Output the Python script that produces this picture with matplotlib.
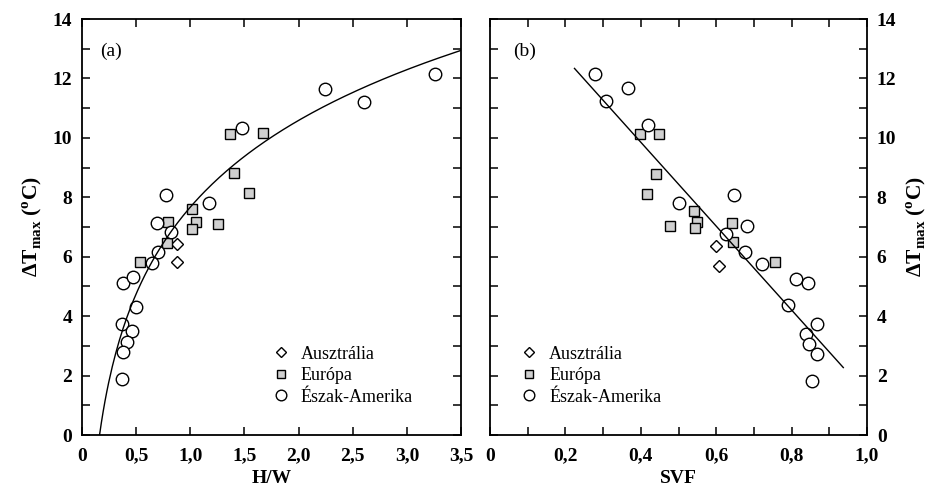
import numpy as np
import matplotlib
matplotlib.use('Agg')
import matplotlib.pyplot as plt
from matplotlib.ticker import FixedLocator, FuncFormatter

plt.rcParams['font.family'] = ['Liberation Serif', 'DejaVu Serif']
plt.rcParams['font.weight'] = 'bold'
plt.rcParams['axes.labelweight'] = 'bold'
plt.rcParams['mathtext.fontset'] = 'custom'
plt.rcParams['mathtext.rm'] = 'Liberation Serif:bold'
plt.rcParams['mathtext.bf'] = 'Liberation Serif:bold'

# (a) H/W
hw_au = [0.88, 0.874]
dt_au_a = [6.42, 5.81]
hw_eu = [1.37, 1.67, 1.40, 1.545, 1.02, 1.05, 1.02, 1.26, 0.79, 0.78, 0.535]
dt_eu_a = [10.13, 10.18, 8.81, 8.16, 7.60, 7.18, 6.93, 7.10, 7.16, 6.47, 5.81]
hw_na = [2.24, 2.60, 3.26, 1.48, 0.776, 1.17, 0.69, 0.82, 0.705, 0.643,
         0.38, 0.474, 0.50, 0.372, 0.459, 0.413, 0.38, 0.366]
dt_na_a = [11.65, 11.22, 12.15, 10.34, 8.08, 7.82, 7.12, 6.82, 6.17, 5.80,
           5.13, 5.33, 4.32, 3.72, 3.50, 3.14, 2.81, 1.87]

# (b) SVF
svf_au = [0.599, 0.606]
dt_au_b = [6.37, 5.70]
svf_eu = [0.398, 0.449, 0.44, 0.417, 0.477, 0.541, 0.55, 0.544, 0.643, 0.645, 0.756]
dt_eu_b = [10.13, 10.13, 8.77, 8.10, 7.05, 7.55, 7.18, 6.96, 7.15, 6.51, 5.83]
svf_na = [0.279, 0.308, 0.367, 0.418, 0.502, 0.648, 0.681, 0.625, 0.676, 0.722,
          0.812, 0.843, 0.789, 0.866, 0.838, 0.846, 0.866, 0.853]
dt_na_b = [12.15, 11.24, 11.69, 10.43, 7.82, 8.08, 7.05, 6.77, 6.17, 5.74,
           5.25, 5.10, 4.38, 3.74, 3.40, 3.06, 2.73, 1.82]

# illesztett görbék
a_log, b_log = 7.67, 4.21        # dT = a + b ln(H/W)
a_lin, b_lin = 15.50, -14.12     # dT = a + b SVF

labels = ['Ausztrália', 'Európa', 'Észak-Amerika']
ylab = r'$\Delta$T$_{\mathrm{max}}$ ($^{\mathrm{o}}$C)'


def comma(v, pos):
    if abs(v) < 1e-9:
        return '0'
    return ('%.1f' % v).replace('.', ',')


def style(ax):
    ax.tick_params(which='both', direction='in', top=True, right=True,
                   labelsize=14, width=1.1, length=6)
    ax.tick_params(axis='x', pad=9)
    ax.tick_params(axis='y', pad=7)
    for s in ax.spines.values():
        s.set_linewidth(1.3)
    ax.set_ylim(0, 14)
    ax.yaxis.set_major_locator(FixedLocator(np.arange(0, 15, 2)))
    ax.yaxis.set_minor_locator(FixedLocator(np.arange(1, 14, 2)))


fig = plt.figure(figsize=(9.44, 4.95), dpi=100)
ax1 = fig.add_axes([0.0869, 0.1212, 0.4015, 0.8404])
ax2 = fig.add_axes([0.5191, 0.1212, 0.3994, 0.8404])

mk = dict(linestyle='none', color='black', markeredgewidth=1.0)
leg_kw = dict(frameon=False, prop={'size': 13, 'weight': 'normal'},
              borderpad=0, borderaxespad=0,
              handlelength=1.0, handletextpad=0.6, labelspacing=0.25,
              markerscale=0.85)

# (a)
ax1.plot(hw_au, dt_au_a, marker='D', markersize=6.5, markerfacecolor='white', **mk)
ax1.plot(hw_eu, dt_eu_a, marker='s', markersize=7, markerfacecolor='#d0d0d0', **mk)
ax1.plot(hw_na, dt_na_a, marker='o', markersize=9, markerfacecolor='white', **mk)
xx = np.linspace(np.exp(-a_log / b_log), 3.5, 200)
ax1.plot(xx, a_log + b_log * np.log(xx), color='black', linewidth=1.0)
ax1.set_xlim(0, 3.5)
ax1.xaxis.set_major_locator(FixedLocator(np.arange(0, 3.51, 0.5)))
ax1.xaxis.set_major_formatter(FuncFormatter(comma))
style(ax1)
ax1.set_xlabel('H/W', fontsize=14, labelpad=4)
ax1.set_ylabel(ylab, fontsize=15.5, labelpad=6)
ax1.text(0.047, 0.923, '(a)', transform=ax1.transAxes, fontsize=14,
         fontweight='normal', va='center')
ax1.legend(labels, loc='upper left', bbox_to_anchor=(0.50, 0.215), **leg_kw)

# (b)
ax2.plot(svf_au, dt_au_b, marker='D', markersize=6.5, markerfacecolor='white', **mk)
ax2.plot(svf_eu, dt_eu_b, marker='s', markersize=7, markerfacecolor='#d0d0d0', **mk)
ax2.plot(svf_na, dt_na_b, marker='o', markersize=9, markerfacecolor='white', **mk)
sv = np.linspace(0.224, 0.937, 50)
ax2.plot(sv, a_lin + b_lin * sv, color='black', linewidth=1.0)
ax2.set_xlim(0, 1.0)
ax2.xaxis.set_major_locator(FixedLocator(np.arange(0, 1.01, 0.2)))
ax2.xaxis.set_minor_locator(FixedLocator(np.arange(0.1, 1.0, 0.2)))
ax2.xaxis.set_major_formatter(FuncFormatter(comma))
style(ax2)
ax2.tick_params(labelleft=False, labelright=True)
ax2.yaxis.set_label_position('right')
ax2.set_xlabel('SVF', fontsize=14, labelpad=4)
ax2.set_ylabel(ylab, fontsize=15.5, labelpad=6)
ax2.text(0.061, 0.923, '(b)', transform=ax2.transAxes, fontsize=14,
         fontweight='normal', va='center')
ax2.legend(labels, loc='upper left', bbox_to_anchor=(0.08, 0.215), **leg_kw)

fig.savefig('out.png', dpi=100)
